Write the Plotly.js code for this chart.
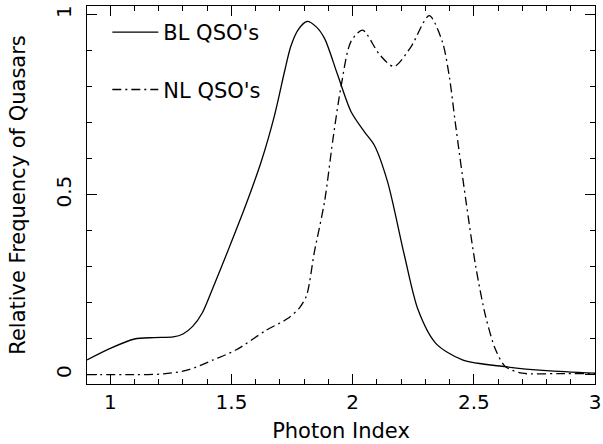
<!DOCTYPE html>
<html>
<head>
<meta charset="utf-8">
<script src="https://cdn.plot.ly/plotly-3.0.1.min.js"></script>
<style>html,body{margin:0;padding:0;background:#fff;}#chart{width:603px;height:444px;}</style>
</head>
<body>
<div id="chart"></div>
<script>
// Broad-line QSOs
var blX = [0.904, 1.0, 1.1, 1.18, 1.26, 1.30, 1.34, 1.38, 1.42, 1.486, 1.554, 1.623, 1.678, 1.719, 1.745, 1.775, 1.812, 1.85, 1.884, 1.938, 1.993, 2.048, 2.089, 2.144, 2.213, 2.27, 2.343, 2.453, 2.63, 2.8, 3.0];
var blY = [0.041, 0.073, 0.099, 0.103, 0.105, 0.113, 0.134, 0.172, 0.235, 0.345, 0.462, 0.592, 0.721, 0.842, 0.912, 0.958, 0.981, 0.966, 0.934, 0.833, 0.731, 0.675, 0.638, 0.536, 0.333, 0.18, 0.087, 0.041, 0.022, 0.011, 0.004];
// Narrow-line QSOs
var nlX = [0.904, 1.1, 1.22, 1.32, 1.425, 1.52, 1.645, 1.73, 1.78, 1.81, 1.842, 1.884, 1.918, 1.952, 1.993, 2.041, 2.11, 2.17, 2.24, 2.316, 2.37, 2.40, 2.423, 2.467, 2.508, 2.549, 2.59, 2.631, 2.7, 2.85, 3.0];
var nlY = [0.0, 0.0, 0.002, 0.013, 0.041, 0.069, 0.124, 0.155, 0.185, 0.22, 0.34, 0.48, 0.65, 0.80, 0.925, 0.957, 0.89, 0.856, 0.91, 0.997, 0.925, 0.823, 0.703, 0.485, 0.30, 0.161, 0.069, 0.022, 0.004, 0.003, 0.003];
var seriesNames = ["BL QSO's", "NL QSO's"];
var xTicks = [1, 1.5, 2, 2.5, 3];
var xTickText = ["1", "1.5", "2", "2.5", "3"];
var yTicks = [0, 0.5, 1];
var yTickText = ["0", "0.5", "1"];

var FONT = "DejaVu Sans, Liberation Sans, sans-serif";

var traces = [
  {x: blX, y: blY, name: seriesNames[0], mode: 'lines', legendgroup: 'a',
   line: {color: '#000', width: 1.3, shape: 'spline', smoothing: 0.8}},
  {x: nlX, y: nlY, name: seriesNames[1], mode: 'lines', legendgroup: 'b',
   line: {color: '#000', width: 1.3, shape: 'spline', smoothing: 0.8, dash: '9px,4px,2px,4px'}}
];

var axisCommon = {
  showgrid: false, zeroline: false, showline: true, linecolor: '#000', linewidth: 1,
  mirror: 'allticks', ticks: 'inside', ticklen: 10, tickwidth: 1, tickcolor: '#000',
  tickfont: {family: FONT, size: 20, color: '#000'},
  minor: {dtick: 0.1, ticks: 'inside', ticklen: 5, tickwidth: 1, tickcolor: '#000', showgrid: false}
};

var layout = {
  width: 603, height: 444,
  margin: {l: 87, r: 8, t: 6, b: 60},
  paper_bgcolor: '#fff', plot_bgcolor: '#fff',
  showlegend: true,
  legend: {x: 0.04, y: 0.984, xanchor: 'left', yanchor: 'top', bgcolor: 'rgba(0,0,0,0)',
           font: {family: FONT, size: 21, color: '#000'}, traceorder: 'grouped', tracegroupgap: 27, itemwidth: 46},
  xaxis: Object.assign({}, axisCommon, {
    range: [0.904, 3.0], tickmode: 'array', tickvals: xTicks, ticktext: xTickText,
    title: {text: 'Photon Index', font: {family: FONT, size: 21, color: '#000'}, standoff: 10}
  }),
  yaxis: Object.assign({}, axisCommon, {
    range: [-0.026, 1.024], tickmode: 'array', tickvals: yTicks, ticktext: yTickText, tickangle: -90,
    ticklabelstandoff: 7,
    title: {text: 'Relative Frequency of Quasars', font: {family: FONT, size: 21, color: '#000'}, standoff: 20}
  })
};

Plotly.newPlot('chart', traces, layout, {staticPlot: true, displayModeBar: false});
</script>
</body>
</html>
